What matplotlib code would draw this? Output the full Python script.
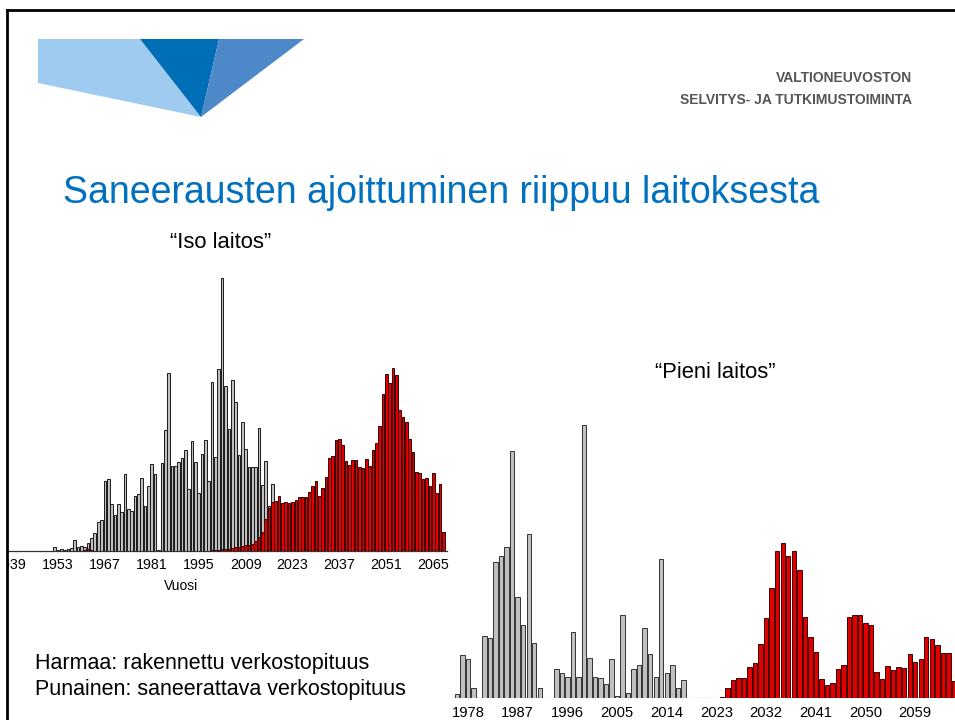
import matplotlib.pyplot as plt
from matplotlib.patches import Polygon, Rectangle
import numpy as np

W, H = 955, 720

# "Iso laitos" (left chart), bar heights in picture pixels
iso_gray_years = np.arange(1952, 2018)
iso_gray = [4.3, 1, 2.3, 1, 2.3, 2.7, 11, 4.3, 4.7, 4, 8, 13, 17.7, 28.7, 30.7,
            69.7, 72.3, 47.3, 35.7, 47.3, 39, 77.3, 42.3, 40.3, 54.7, 56.7, 72.7,
            45.3, 65, 86.7, 77, 1, 87.7, 121, 178, 85, 84.7, 88.7, 92.7, 101, 62,
            110, 88.7, 58.3, 96.7, 110.7, 69.7, 169, 93.7, 181.7, 272.7, 165,
            122.3, 171, 148.7, 95.7, 128.7, 102.3, 83.7, 84, 84, 123, 66, 90, 45, 67]
iso_red_early_years = [1961, 1962, 1963]
iso_red_early = [1.5, 2.5, 1.5]
iso_red_years = np.arange(1999, 2069)
iso_red = [0.7, 1, 1.3, 1.7, 2, 2.3, 3, 3.7, 4.3, 5,
           5.7, 6, 7, 9.7, 14.3, 19.3, 31.7, 43.3, 48.7, 50,
           54.7, 47.7, 49, 47.7, 49.3, 50.7, 54.3, 54, 54.3, 59,
           65.3, 69.7, 55, 63.3, 74, 92.7, 94.7, 111.3, 112, 105.7,
           90.3, 85.7, 91, 91, 84, 83, 92.3, 85.3, 100.7, 107.7,
           125, 157, 176.7, 167.7, 183, 176.3, 141, 133.7, 129.3, 112.3,
           99, 79.3, 78, 72.3, 73.3, 65, 78, 57.7, 67.3, 18.7]
iso_ticks = [1939, 1953, 1967, 1981, 1995, 2009, 2023, 2037, 2051, 2065]

# "Pieni laitos" (right chart)
pieni_gray_years = np.arange(1976, 2018)
pieni_gray = [4.3, 43.3, 39.3, 10.3, 0, 61.7, 60.3, 136.3, 141.7, 150.7,
              246.7, 101.3, 73.3, 164.3, 55.3, 10.3, 0, 0, 28.7, 25,
              21, 66, 21, 273.3, 39.7, 21, 19.7, 14.3, 38.7, 1.7,
              83, 5.3, 29, 32.7, 69.7, 44, 21.3, 138.7, 25.3, 33.3,
              10.3, 18.3]
pieni_red_years = np.arange(2024, 2067)
pieni_red = [1, 10, 17.7, 20, 20, 31, 35, 53.7, 79.7, 110,
             146.7, 155, 142.3, 146.7, 128, 81, 61, 46, 19, 12.7,
             15, 28.7, 32.7, 81, 83.3, 83.3, 75, 73.3, 26.3, 19,
             31.7, 28.3, 31, 30.3, 43.7, 36, 39, 61.3, 59, 52.7,
             45.3, 45, 17]
pieni_ticks = [1978, 1987, 1996, 2005, 2014, 2023, 2032, 2041, 2050, 2059]

GRAY = '#c0c0c0'
RED = '#e00000'


def px_axes(fig, left, top, right, bottom, **kw):
    return fig.add_axes([left / W, 1 - bottom / H, (right - left) / W, (bottom - top) / H], **kw)


fig = plt.figure(figsize=(W / 100, H / 100), dpi=100)

# background layer in pixel coordinates
bg = px_axes(fig, 0, 0, W, H, zorder=-1)
bg.set_xlim(0, W)
bg.set_ylim(H, 0)
bg.axis('off')

# logo
bg.add_patch(Polygon([(38, 39), (140, 39), (201, 117), (38, 83)], closed=True, color='#9ecbef', lw=0))
bg.add_patch(Polygon([(140, 39), (219, 39), (201, 117)], closed=True, color='#006db7', lw=0))
bg.add_patch(Polygon([(219, 39), (304, 39), (201, 117)], closed=True, color='#4d88c8', lw=0))

hdr_font = ['Liberation Sans Narrow', 'Liberation Sans', 'DejaVu Sans']
bg.text(912, 78, 'VALTIONEUVOSTON', ha='right', va='center', fontsize=10,
        family=hdr_font, weight='bold', color='#555555')
bg.text(912, 100, 'SELVITYS- JA TUTKIMUSTOIMINTA', ha='right', va='center', fontsize=10,
        family=hdr_font, weight='bold', color='#555555')

bg.text(63, 203, 'Saneerausten ajoittuminen riippuu laitoksesta', ha='left', va='baseline',
        fontsize=27, family='Liberation Sans', color='#0070c0')
bg.text(221, 243, '\u201cIso laitos\u201d', ha='center', va='center', fontsize=15.8, family='Liberation Sans')
bg.text(715, 372, '\u201cPieni laitos\u201d', ha='center', va='center', fontsize=15.8, family='Liberation Sans')
bg.text(35, 664, 'Harmaa: rakennettu verkostopituus', ha='left', va='center', fontsize=15.5, family='Liberation Sans')
bg.text(35, 690, 'Punainen: saneerattava verkostopituus', ha='left', va='center', fontsize=15.5, family='Liberation Sans')
bg.text(181, 586, 'Vuosi', ha='center', va='center', fontsize=10, family='Liberation Sans')

# left chart
ax1 = px_axes(fig, 7, 275, 447, 551)
ax1.bar(iso_gray_years, iso_gray, width=0.8, color=GRAY, edgecolor='#1a1a1a', linewidth=0.7)
ax1.bar(iso_red_early_years, iso_red_early, width=0.8, color=RED, edgecolor='#3a0000', linewidth=0.7)
ax1.bar(iso_red_years, iso_red, width=0.8, color=RED, edgecolor='#3a0000', linewidth=0.7)
ax1.set_xlim(1937.78, 2069.12)
ax1.set_ylim(0, 276)
ax1.set_facecolor('none')
for s in ['top', 'right', 'left']:
    ax1.spines[s].set_visible(False)
ax1.spines['bottom'].set_color('#333333')
ax1.spines['bottom'].set_linewidth(0.9)
ax1.set_yticks([])
ax1.set_xticks(iso_ticks)
ax1.set_xticklabels([str(t) for t in iso_ticks], fontsize=10.3, family='Liberation Sans')
ax1.tick_params(axis='x', length=0, pad=5)

# right chart
ax2 = px_axes(fig, 451, 420, W, 698)
ax2.bar(pieni_gray_years, pieni_gray, width=0.8, color=GRAY, edgecolor='#333333', linewidth=0.7)
ax2.bar(pieni_red_years, pieni_red, width=0.8, color=RED, edgecolor='#400000', linewidth=0.7)
ax2.axhline(0, color='#888888', lw=0.9, ls=(0, (3, 2)), zorder=0)
ax2.set_xlim(1974.92, 2066.2)
ax2.set_ylim(0, 278)
ax2.set_facecolor('none')
for s in ['top', 'right', 'left', 'bottom']:
    ax2.spines[s].set_visible(False)
ax2.set_yticks([])
ax2.set_xticks(pieni_ticks)
ax2.set_xticklabels([str(t) for t in pieni_ticks], fontsize=10.6, family='Liberation Sans')
ax2.tick_params(axis='x', length=0, pad=6)

# slide frame on top
top = px_axes(fig, 0, 0, W, H, zorder=10)
top.set_xlim(0, W)
top.set_ylim(H, 0)
top.axis('off')
top.add_patch(Rectangle((0, 0), 7, H, color='white', lw=0))
top.add_patch(Rectangle((0, 0), W, 10, color='white', lw=0))
top.plot([7, 7], [10, H], color='black', lw=2)
top.plot([7, W], [10, 10], color='black', lw=2)

fig.savefig('out.png', dpi=100)
